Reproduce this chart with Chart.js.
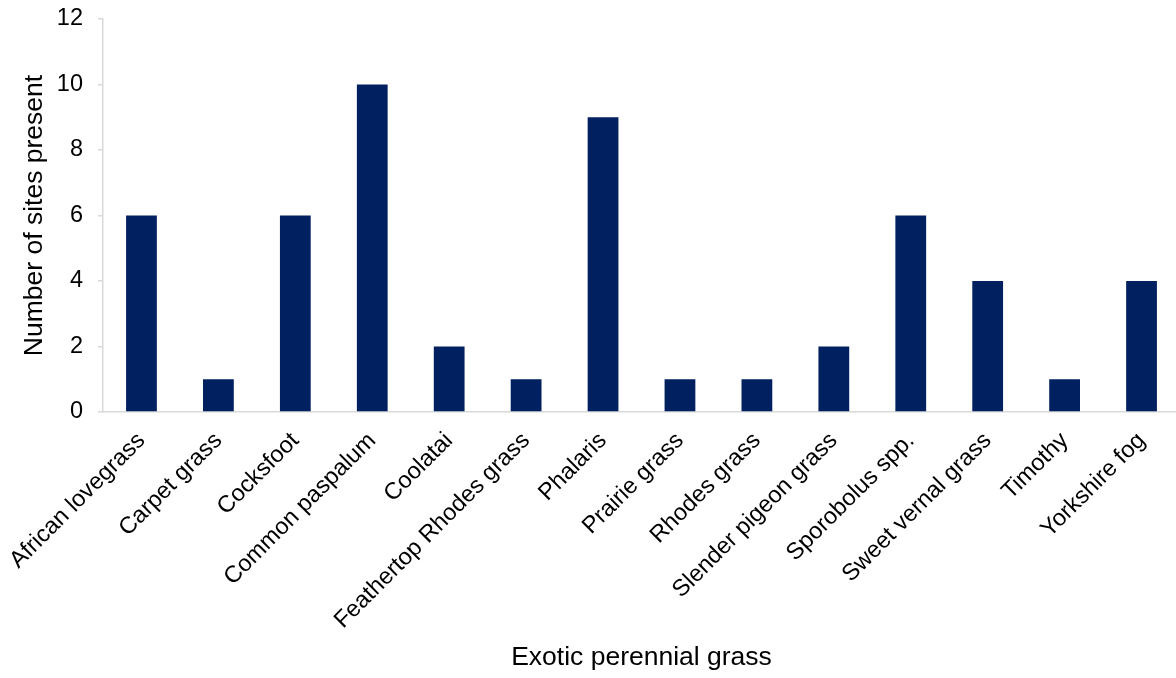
<!DOCTYPE html>
<html>
<head>
<meta charset="utf-8">
<script src="https://cdn.jsdelivr.net/npm/chart.js@4/dist/chart.umd.min.js"></script>
<style>
  html, body { margin: 0; padding: 0; background: #fff; overflow: hidden; }
  #wrap { width: 1176px; height: 678px; overflow: hidden; position: relative; }
  canvas { display: block; }
</style>
</head>
<body>
<div id="wrap"><canvas id="chart" width="1180" height="678"></canvas></div>
<script>
// Exotic perennial grass species and how many sites each was recorded at
const grasses = [
  'African lovegrass', 'Carpet grass', 'Cocksfoot', 'Common paspalum', 'Coolatai',
  'Feathertop Rhodes grass', 'Phalaris', 'Prairie grass', 'Rhodes grass',
  'Slender pigeon grass', 'Sporobolus spp.', 'Sweet vernal grass', 'Timothy', 'Yorkshire fog'
];
const sitesPresent = [6, 1, 6, 10, 2, 1, 9, 1, 1, 2, 6, 4, 1, 4];
const yTicks = [0, 2, 4, 6, 8, 10, 12];

const FONT = "'Liberation Sans', Arial, sans-serif";
const AXIS_GREY = '#d9d9d9';

// keep the plot area fixed: no extra room reserved for overhanging labels
function noOverhang(scale) {
  scale.paddingTop = 0;
  scale.paddingBottom = 0;
  scale.paddingLeft = 0;
  scale.paddingRight = 0;
}

new Chart(document.getElementById('chart'), {
  type: 'bar',
  data: {
    labels: grasses,
    datasets: [{
      data: sitesPresent,
      backgroundColor: '#002060',
      borderWidth: 0,
      categoryPercentage: 1,
      barPercentage: 0.40
    }]
  },
  options: {
    responsive: false,
    animation: false,
    layout: { padding: { top: 19, right: 0, bottom: 0, left: 0 } },
    plugins: { legend: { display: false }, tooltip: { enabled: false } },
    scales: {
      x: {
        grid: { drawOnChartArea: false, drawTicks: false },
        border: { display: true, color: AXIS_GREY, width: 1.5 },
        ticks: {
          color: '#000',
          font: { family: FONT, size: 23.5 },
          minRotation: 45,
          maxRotation: 45,
          padding: 15,
          autoSkip: false
        },
        title: {
          display: true,
          text: 'Exotic perennial grass',
          color: '#000',
          font: { family: FONT, size: 26.5 },
          padding: { top: 0, bottom: 4 }
        },
        afterFit(scale) { scale.height = 266; noOverhang(scale); }
      },
      y: {
        min: 0,
        max: 12,
        afterBuildTicks(scale) { scale.ticks = yTicks.map(v => ({ value: v })); },
        grid: { drawOnChartArea: false, drawTicks: true, tickLength: 5, color: AXIS_GREY, lineWidth: 1.5 },
        border: { display: true, color: AXIS_GREY, width: 1.5 },
        ticks: {
          color: '#000',
          font: { family: FONT, size: 23.5 },
          padding: 15
        },
        title: {
          display: true,
          text: 'Number of sites present',
          color: '#000',
          font: { family: FONT, size: 26.5 },
          padding: { top: 19, bottom: 0 }
        },
        afterFit(scale) { scale.width = 103; noOverhang(scale); }
      }
    }
  }
});
</script>
</body>
</html>
